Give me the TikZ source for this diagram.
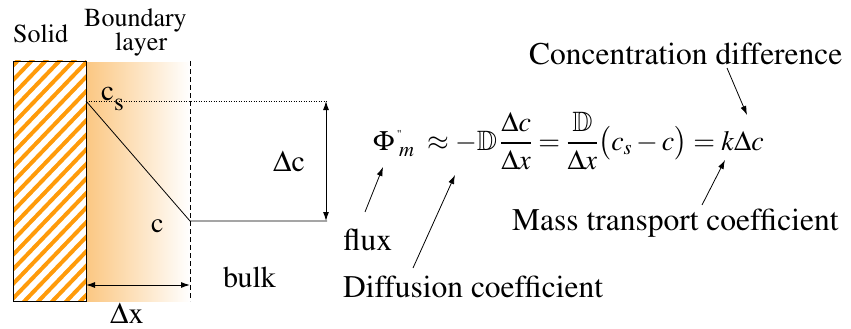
\documentclass[tikz,border=0pt]{standalone}
\usepackage[T1]{fontenc}
\usepackage{mathptmx}
\usepackage{amsmath}
\usepackage{amsfonts}
\usetikzlibrary{arrows.meta}
\definecolor{hatchorange}{RGB}{255,155,10}
\definecolor{blayer}{RGB}{251,199,130}
\begin{document}
\begin{tikzpicture}[x=1pt,y=-1pt,
  lbl/.style={font=\fontsize{30}{34}\selectfont, inner sep=0pt, anchor=base west},
  side/.style={font=\fontsize{26}{30}\selectfont, inner sep=0pt, anchor=base west},
  note/.style={font=\fontsize{31.5}{36}\selectfont, inner sep=0pt, anchor=base west},
  eqn/.style={font=\fontsize{28}{34}\selectfont, inner sep=0pt, anchor=base west},
  thinline/.style={line width=0.8pt},
  tip/.style={-{Latex[length=9pt,width=6pt]}, line width=0.8pt},
  dtip/.style={{Latex[length=9pt,width=6pt]}-{Latex[length=9pt,width=6pt]}, line width=1pt}]
\useasboundingbox (0,0) rectangle (851,329);
% boundary layer gradient
\shade[left color=blayer, right color=white] (86,63) rectangle (190,301);
% hatched solid
\begin{scope}
  \clip (13,61) rectangle (86,301);
  \foreach \k in {0,...,26} {
    \draw[hatchorange, line width=4pt] ({13+\k*14-250},311) -- ({13+\k*14},51);
  }
\end{scope}
\draw[thinline] (13,61) rectangle (86,301);
% coordinates
\coordinate (cs) at (86,101);
\coordinate (cb) at (190,221);
\coordinate (ce) at (327,221);
\coordinate (dtop) at (190,61);
\coordinate (dbot) at (190,301);
\coordinate (dse) at (327,101);
% lines
\draw[thinline, dash pattern=on 5pt off 3pt] (dtop) -- (dbot);
\draw[line width=0.6pt, dash pattern=on 1pt off 1.5pt] (cs) -- (dse);
\draw[thinline] (cs) -- (cb) -- (ce);
\coordinate (dca) at (326,101);
\coordinate (dcb) at (326,221);
\draw[dtip] (dca) -- (dcb);
\coordinate (dxa) at (86,285);
\coordinate (dxb) at (190,285);
\draw[dtip] (dxa) -- (dxb);
% left labels
\node[side] (solid) at (13,43) {Solid};
\node[side] (bnd) at (84,27) {Boundary};
\node[side] (lay) at (115,51) {layer};
\node[lbl, font=\fontsize{29}{32}\selectfont] (csl) at (101,100) {c\raisebox{-10pt}{\fontsize{25}{28}\selectfont s}};
\node[lbl] (dcl) at (273,171) {$\Delta$c};
\node[lbl, font=\fontsize{28}{32}\selectfont] (cl) at (151,232) {c};
\node[lbl] (bulk) at (223,287) {bulk};
\node[lbl] (dxl) at (110,323) {$\Delta$x};
% equation
\node[eqn] (eq) at (373,150) {$\displaystyle \Phi^{\,\text{\fontsize{12}{12}\selectfont "}}_{\;m} \;\approx -\mathbb{D}\,\frac{\Delta c}{\Delta x} = \frac{\mathbb{D}}{\Delta x}\bigl(c_{s} - c\bigr) = k\Delta c$};
% annotations
\node[note] (conc) at (529,65) {Concentration difference};
\node[note] (mass) at (512,230) {Mass transport coefficient};
\node[note] (flux) at (343,250) {flux};
\node[note] (diff) at (343,297) {Diffusion coefficient};
\coordinate (fluxtail) at (365,212);
\coordinate (fluxtip) at (383,167);
\coordinate (difftail) at (413,268);
\coordinate (difftip) at (455,175);
\coordinate (masstail) at (702,205);
\coordinate (masstip) at (725,160);
\coordinate (conctail) at (727,68);
\coordinate (conctip) at (747,115);
\draw[tip] (fluxtail) -- (fluxtip);
\draw[tip] (difftail) -- (difftip);
\draw[tip] (masstail) -- (masstip);
\draw[tip] (conctail) -- (conctip);
\end{tikzpicture}
\end{document}
